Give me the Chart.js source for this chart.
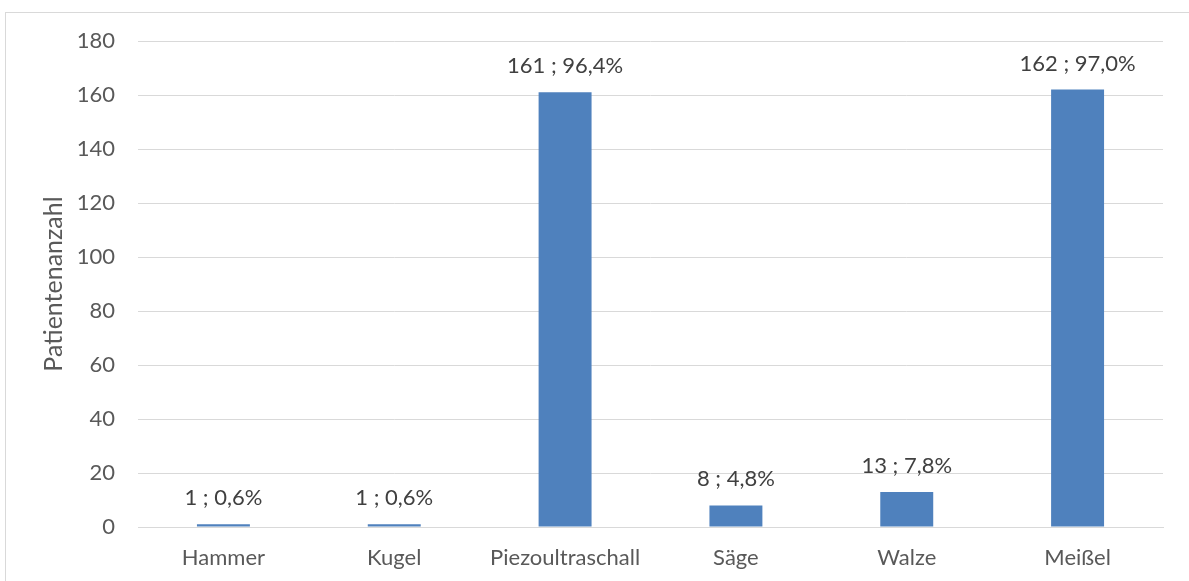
<!DOCTYPE html>
<html>
<head>
<meta charset="utf-8">
<script src="https://cdn.jsdelivr.net/npm/chart.js@4/dist/chart.umd.min.js"></script>
<style>
  html, body { margin: 0; padding: 0; background: #fff; overflow: hidden; }
  #wrap { position: relative; width: 1189px; height: 581px; }
</style>
</head>
<body>
<div id="wrap"><canvas id="chart" width="1189" height="581"></canvas></div>
<script>
const labels = ['Hammer', 'Kugel', 'Piezoultraschall', 'Säge', 'Walze', 'Meißel'];
const patients = [1, 1, 161, 8, 13, 162];
const percents = [0.6, 0.6, 96.4, 4.8, 7.8, 97.0];
const yTicks = [0, 20, 40, 60, 80, 100, 120, 140, 160, 180];

const textColor = '#595959';
const gridColor = '#d9d9d9';
const fontFamily = 'Lato, "Open Sans", sans-serif';
const fontSize = 22;

// frame around the whole chart, cut off at right and bottom
const framePlugin = {
  id: 'frame',
  beforeDraw(chart) {
    const c = chart.ctx;
    c.save();
    c.fillStyle = '#fff';
    c.fillRect(0, 0, chart.width, chart.height);
    c.strokeStyle = gridColor;
    c.lineWidth = 1;
    c.strokeRect(5.5, 12.5, chart.width + 10, chart.height + 10);
    c.restore();
  }
};

// "n ; p%" above every bar
const valueLabels = {
  id: 'valueLabels',
  afterDatasetsDraw(chart) {
    const c = chart.ctx;
    const meta = chart.getDatasetMeta(0);
    c.save();
    c.font = fontSize + 'px ' + fontFamily;
    c.fillStyle = '#404040';
    c.textAlign = 'center';
    c.textBaseline = 'alphabetic';
    meta.data.forEach((bar, i) => {
      const txt = patients[i] + ' ; ' + percents[i].toFixed(1).replace('.', ',') + '%';
      c.fillText(txt, bar.x, bar.y - 19);
    });
    c.restore();
  }
};

new Chart(document.getElementById('chart'), {
  type: 'bar',
  data: {
    labels: labels,
    datasets: [{
      data: patients,
      backgroundColor: '#4f81bd',
      borderWidth: 0,
      barPercentage: 0.31,
      categoryPercentage: 1
    }]
  },
  options: {
    responsive: false,
    animation: false,
    layout: { padding: { top: 41, right: 26, left: 0, bottom: 0 } },
    plugins: { legend: { display: false }, tooltip: { enabled: false } },
    scales: {
      x: {
        grid: { display: false },
        border: { color: gridColor },
        ticks: { color: textColor, font: { family: fontFamily, size: fontSize }, padding: 10 },
        afterFit(scale) { scale.height = 54; }
      },
      y: {
        min: 0,
        max: 180,
        afterBuildTicks(scale) { scale.ticks = yTicks.map(v => ({ value: v })); },
        grid: { color: gridColor, drawTicks: false },
        border: { display: false },
        ticks: { color: textColor, font: { family: fontFamily, size: fontSize }, padding: 23 },
        title: {
          display: true,
          text: 'Patientenanzahl',
          color: textColor,
          font: { family: fontFamily, size: 25 },
          padding: { top: 39, bottom: 0 }
        },
        afterFit(scale) { scale.width = 138; }
      }
    }
  },
  plugins: [framePlugin, valueLabels]
});
</script>
</body>
</html>
